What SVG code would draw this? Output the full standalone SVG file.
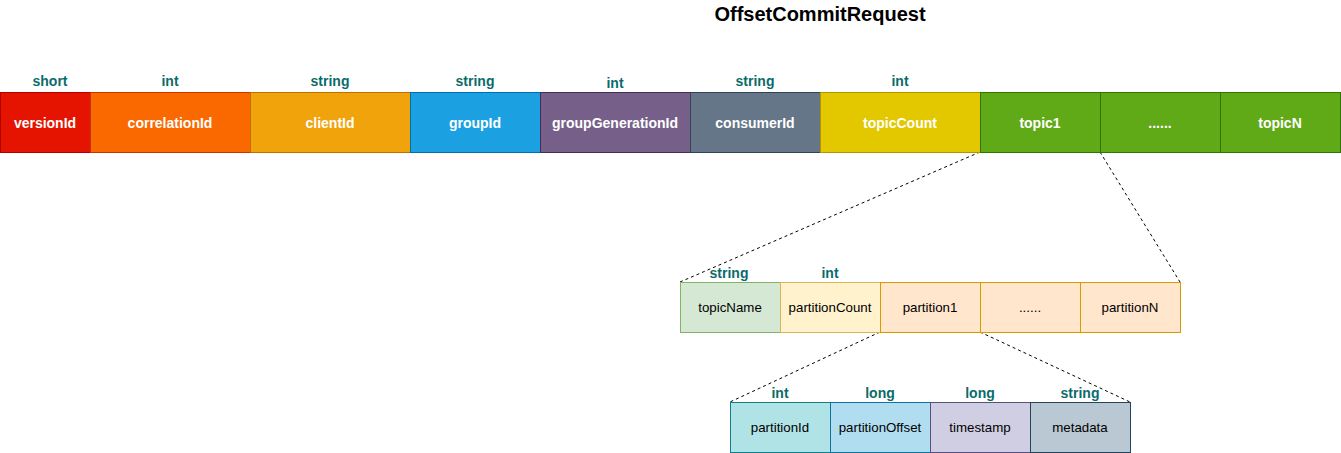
<svg xmlns="http://www.w3.org/2000/svg" width="1341" height="453" viewBox="0 0 1341 453">
<style>
text{font-family:"Liberation Sans",Arial,sans-serif;text-anchor:middle}
.t{font-size:14px;font-weight:bold;fill:#ffffff}
.d{font-size:13.3px;fill:#000000}
.ty{font-size:14px;font-weight:bold;fill:#0b6b6b}
.title{font-size:20px;font-weight:bold;fill:#000}
.c{fill:none;stroke:#000;stroke-dasharray:3 3;stroke-width:1}
</style>
<rect width="1341" height="453" fill="#ffffff"/>
<text class="title" x="820" y="21">OffsetCommitRequest</text>
<g id="connectors">
<line class="c" x1="980" y1="152" x2="680" y2="282"/>
<line class="c" x1="1100" y1="152" x2="1180" y2="282"/>
<line class="c" x1="880" y1="332" x2="730" y2="402"/>
<line class="c" x1="980" y1="332" x2="1130" y2="402"/>
</g>
<g id="versionId"><rect x="0.5" y="92.5" width="90" height="60" fill="#e51400" stroke="#b20000"/><text class="t" x="45" y="128">versionId</text><text class="ty" x="50" y="86">short</text></g>
<g id="correlationId"><rect x="90.5" y="92.5" width="160" height="60" fill="#fa6800" stroke="#c73500"/><text class="t" x="170" y="128">correlationId</text><text class="ty" x="170" y="86">int</text></g>
<g id="clientId"><rect x="250.5" y="92.5" width="160" height="60" fill="#f0a30a" stroke="#bd7000"/><text class="t" x="330" y="128">clientId</text><text class="ty" x="330" y="86">string</text></g>
<g id="groupId"><rect x="410.5" y="92.5" width="130" height="60" fill="#1ba1e2" stroke="#006eaf"/><text class="t" x="475" y="128">groupId</text><text class="ty" x="475" y="86">string</text></g>
<g id="groupGenerationId"><rect x="540.5" y="92.5" width="150" height="60" fill="#76608a" stroke="#432d57"/><text class="t" x="615" y="128">groupGenerationId</text><text class="ty" x="615" y="88">int</text></g>
<g id="consumerId"><rect x="690.5" y="92.5" width="130" height="60" fill="#647687" stroke="#314354"/><text class="t" x="755" y="128">consumerId</text><text class="ty" x="755" y="86">string</text></g>
<g id="topicCount"><rect x="820.5" y="92.5" width="160" height="60" fill="#e3c800" stroke="#b09500"/><text class="t" x="900" y="128">topicCount</text><text class="ty" x="900" y="86">int</text></g>
<g id="topic1"><rect x="980.5" y="92.5" width="120" height="60" fill="#60a917" stroke="#2d7600"/><text class="t" x="1040" y="128">topic1</text></g>
<g id="topicDots"><rect x="1100.5" y="92.5" width="120" height="60" fill="#60a917" stroke="#2d7600"/><text class="t" x="1160" y="128">......</text></g>
<g id="topicN"><rect x="1220.5" y="92.5" width="120" height="60" fill="#60a917" stroke="#2d7600"/><text class="t" x="1280" y="128">topicN</text></g>
<g id="topicName"><rect x="680.5" y="282.5" width="100" height="50" fill="#d5e8d4" stroke="#82b366"/><text class="d" x="730" y="312">topicName</text><text class="ty" x="729" y="278">string</text></g>
<g id="partitionCount"><rect x="780.5" y="282.5" width="100" height="50" fill="#fff2cc" stroke="#d6b656"/><text class="d" x="830" y="312">partitionCount</text><text class="ty" x="830" y="278">int</text></g>
<g id="partition1"><rect x="880.5" y="282.5" width="100" height="50" fill="#ffe6cc" stroke="#d79b00"/><text class="d" x="930" y="312">partition1</text></g>
<g id="partitionDots"><rect x="980.5" y="282.5" width="100" height="50" fill="#ffe6cc" stroke="#d79b00"/><text class="d" x="1030" y="312">......</text></g>
<g id="partitionN"><rect x="1080.5" y="282.5" width="100" height="50" fill="#ffe6cc" stroke="#d79b00"/><text class="d" x="1130" y="312">partitionN</text></g>
<g id="partitionId"><rect x="730.5" y="402.5" width="100" height="50" fill="#b0e3e6" stroke="#0e8088"/><text class="d" x="780" y="432">partitionId</text><text class="ty" x="780" y="398">int</text></g>
<g id="partitionOffset"><rect x="830.5" y="402.5" width="100" height="50" fill="#b1ddf0" stroke="#10739e"/><text class="d" x="880" y="432">partitionOffset</text><text class="ty" x="880" y="398">long</text></g>
<g id="timestamp"><rect x="930.5" y="402.5" width="100" height="50" fill="#d0cee2" stroke="#56517e"/><text class="d" x="980" y="432">timestamp</text><text class="ty" x="980" y="398">long</text></g>
<g id="metadata"><rect x="1030.5" y="402.5" width="100" height="50" fill="#bac8d3" stroke="#23445d"/><text class="d" x="1080" y="432">metadata</text><text class="ty" x="1080" y="398">string</text></g>
</svg>
